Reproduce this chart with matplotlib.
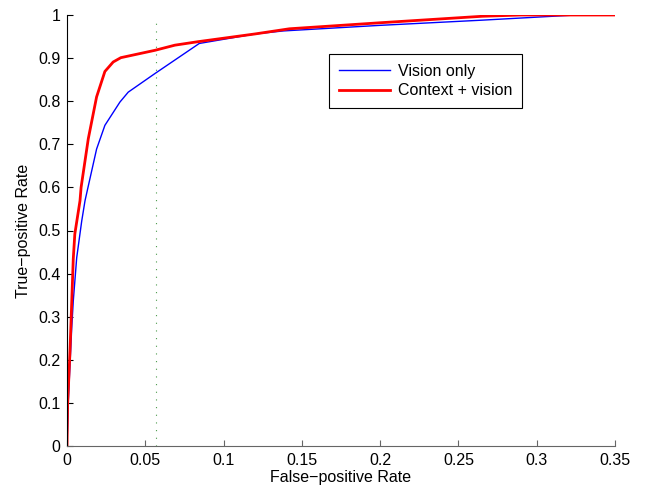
import matplotlib
matplotlib.use("Agg")
import matplotlib.pyplot as plt

plt.rcParams['font.family'] = ['Liberation Sans', 'DejaVu Sans']

vision_fpr = [0.0, 0.0008, 0.003, 0.004, 0.0062, 0.0094, 0.0115, 0.0134, 0.0189, 0.0242,
              0.0338, 0.0391, 0.0561, 0.0845, 0.12, 0.138, 0.2, 0.265, 0.30, 0.325, 0.35]
vision_tpr = [0.0, 0.103, 0.273, 0.336, 0.437, 0.522, 0.569, 0.60, 0.689, 0.744,
              0.798, 0.821, 0.864, 0.934, 0.956, 0.963, 0.976, 0.988, 0.995, 1.0, 1.0]

context_fpr = [0.0, 0.0004, 0.0019, 0.004, 0.005, 0.0083, 0.009, 0.0136, 0.0189, 0.0242,
               0.0295, 0.0344, 0.0561, 0.0689, 0.0835, 0.12, 0.142, 0.2, 0.265, 0.29, 0.33, 0.35]
context_tpr = [0.0, 0.096, 0.219, 0.434, 0.492, 0.569, 0.60, 0.713, 0.81, 0.869,
               0.891, 0.901, 0.918, 0.93, 0.938, 0.956, 0.968, 0.982, 0.997, 1.0, 1.0, 1.0]

threshold_x = 0.0567
threshold_y = [0.0, 0.986]

FS = 11.5

fig = plt.figure(figsize=(6.47, 4.92), dpi=100)
ax = fig.add_axes([67 / 647, 46 / 492, 548 / 647, 431 / 492])

ax.plot([threshold_x, threshold_x], threshold_y, color='#4a9a4a',
        linestyle=(0, (1, 5.9)), linewidth=0.8)
ax.plot(vision_fpr, vision_tpr, color='#0000ff', linewidth=1.0, label='Vision only')
ax.plot(context_fpr, context_tpr, color='#ff0000', linewidth=2.0, label='Context + vision')

ax.set_xlim(0, 0.35)
ax.set_ylim(0, 1)
ax.set_xticks([0, 0.05, 0.1, 0.15, 0.2, 0.25, 0.3, 0.35])
ax.set_xticklabels(['0', '0.05', '0.1', '0.15', '0.2', '0.25', '0.3', '0.35'])
ax.set_yticks([i / 10 for i in range(11)])
ax.set_yticklabels(['0', '0.1', '0.2', '0.3', '0.4', '0.5', '0.6', '0.7', '0.8', '0.9', '1'])

ax.spines['top'].set_visible(False)
ax.spines['right'].set_visible(False)
ax.spines['bottom'].set_color('#666666')
ax.spines['left'].set_color('#000000')
ax.tick_params(direction='in', length=4, labelsize=FS, width=0.8)
ax.tick_params(axis='x', colors='#666666', labelcolor='black', pad=5)
ax.tick_params(axis='y', pad=4.5)

ax.set_xlabel('False\u2212positive Rate', fontsize=FS, labelpad=1.5)
ax.set_ylabel('True\u2212positive Rate', fontsize=FS, labelpad=5)

leg = ax.legend(loc='upper left', bbox_to_anchor=(0.478, 0.9095), fontsize=FS,
                frameon=True, fancybox=False, edgecolor='black', framealpha=1,
                borderpad=0.6, handlelength=3.2, labelspacing=0.3, handletextpad=0.5,
                borderaxespad=0)
leg.get_frame().set_linewidth(0.8)

fig.savefig('out.png', dpi=100)
